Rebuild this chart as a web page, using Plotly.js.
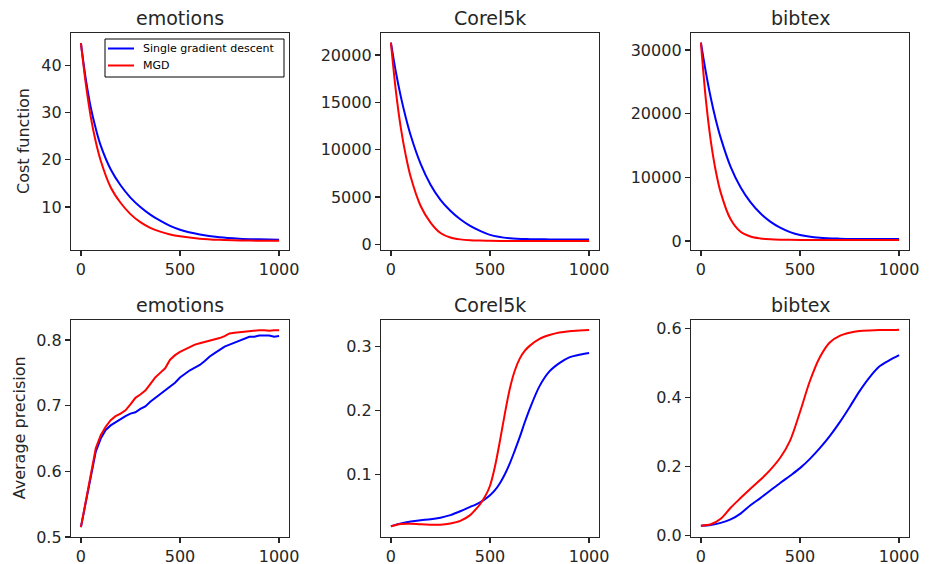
<!DOCTYPE html>
<html>
<head>
<meta charset="utf-8">
<script src="https://cdn.plot.ly/plotly-2.35.2.min.js"></script>
<style>html,body{margin:0;padding:0;background:#fff;}#chart{width:931px;height:564px;}</style>
</head>
<body>
<div id="chart"></div>
<script>
// ---- data ----
const seriesNames = ["Single gradient descent", "MGD"];
const datasets = ["emotions", "Corel5k", "bibtex"];

const iterCost = [0, 25, 50, 75, 100, 150, 200, 250, 300, 350, 400, 450, 500, 600, 700, 800, 900, 1000];
const emotionsCostSGD = [44.7, 37.0, 31.0, 26.6, 23.0, 18.0, 14.6, 12.0, 10.0, 8.4, 7.1, 6.0, 5.2, 4.2, 3.6, 3.3, 3.15, 3.05];
const emotionsCostMGD = [44.7, 36.0, 29.0, 23.8, 19.8, 14.2, 10.9, 8.5, 6.8, 5.6, 4.8, 4.2, 3.8, 3.3, 3.05, 2.92, 2.87, 2.85];
const corelCostSGD = [21300, 18200, 15600, 13400, 11500, 8500, 6300, 4700, 3550, 2650, 1950, 1420, 1000, 640, 540, 520, 510, 510];
const corelCostMGD = [21300, 16200, 12300, 9400, 7100, 4050, 2300, 1200, 720, 520, 430, 390, 370, 355, 350, 350, 350, 350];
const bibtexCostSGD = [31150, 26500, 22450, 19050, 16200, 11650, 8450, 6100, 4350, 3050, 2100, 1400, 950, 520, 370, 320, 300, 300];
const bibtexCostMGD = [31150, 22200, 15700, 11000, 7600, 3400, 1450, 700, 400, 260, 200, 180, 170, 160, 155, 150, 150, 150];

const iterEmoAP = [0,25,50,75,100,125,150,175,200,225,250,275,300,325,350,375,400,425,450,475,500,525,550,575,600,625,650,675,700,725,750,775,800,825,850,875,900,925,950,975,1000];
const emotionsAPSGD = [0.515,0.553,0.595,0.630,0.650,0.663,0.670,0.675,0.679,0.684,0.688,0.690,0.695,0.699,0.706,0.712,0.717,0.724,0.729,0.735,0.743,0.749,0.754,0.758,0.762,0.768,0.775,0.780,0.785,0.790,0.793,0.796,0.800,0.803,0.805,0.805,0.807,0.807,0.807,0.805,0.806];
const emotionsAPMGD = [0.515,0.555,0.598,0.635,0.655,0.668,0.678,0.684,0.688,0.693,0.702,0.712,0.717,0.723,0.733,0.743,0.750,0.757,0.770,0.777,0.782,0.786,0.790,0.793,0.795,0.797,0.798,0.800,0.803,0.806,0.810,0.811,0.812,0.813,0.813,0.814,0.815,0.815,0.814,0.815,0.815];

const iterCorelAP = [0,50,100,150,200,250,300,350,400,425,450,475,500,525,550,575,600,625,650,675,700,750,800,850,900,950,1000];
const corelAPSGD = [0.0185,0.023,0.026,0.028,0.0295,0.032,0.036,0.042,0.049,0.052,0.056,0.061,0.067,0.075,0.086,0.100,0.117,0.137,0.158,0.181,0.202,0.238,0.261,0.274,0.283,0.287,0.290];
const corelAPMGD = [0.0185,0.022,0.0225,0.0215,0.021,0.021,0.023,0.027,0.036,0.044,0.053,0.065,0.082,0.112,0.152,0.195,0.234,0.262,0.281,0.293,0.301,0.312,0.318,0.322,0.324,0.325,0.326];

const iterBibAP = [0,50,100,150,200,250,300,350,400,450,500,550,600,650,700,750,800,850,900,950,1000];
const bibtexAPSGD = [0.028,0.030,0.036,0.046,0.063,0.087,0.108,0.130,0.152,0.173,0.195,0.222,0.253,0.288,0.328,0.372,0.418,0.458,0.490,0.508,0.523];
const bibtexAPMGD = [0.028,0.032,0.048,0.080,0.108,0.135,0.161,0.190,0.225,0.275,0.358,0.448,0.517,0.560,0.579,0.588,0.593,0.595,0.596,0.596,0.597];

const rowLabels = ["Cost function", "Average precision"];

// ---- layout helpers ----
const W = 931, H = 564;
const FONT = "DejaVu Sans";
const TXT = "#262626";
const colPx = [[71, 289], [381, 599], [691, 909]];
const rowPx = [[33, 250], [319.7, 537]];
const px2x = p => p / W;
const px2y = p => 1 - p / H;

const colors = ["#0000ff", "#ff0000"];

const panels = [
  {x: iterCost, y: [emotionsCostSGD, emotionsCostMGD], range: [0.9, 46.84], dtick: 10, fmt: "d", shape: "spline"},
  {x: iterCost, y: [corelCostSGD, corelCostMGD], range: [-602, 22325], dtick: 5000, fmt: "d", shape: "spline"},
  {x: iterCost, y: [bibtexCostSGD, bibtexCostMGD], range: [-1414, 32670], dtick: 10000, fmt: "d", shape: "spline"},
  {x: iterEmoAP, y: [emotionsAPSGD, emotionsAPMGD], range: [0.5, 0.831], dtick: 0.1, fmt: ".1f", shape: "linear"},
  {x: iterCorelAP, y: [corelAPSGD, corelAPMGD], range: [0.0017, 0.342], dtick: 0.1, fmt: ".1f", shape: "spline"},
  {x: iterBibAP, y: [bibtexAPSGD, bibtexAPMGD], range: [-0.005, 0.626], dtick: 0.2, fmt: ".1f", shape: "spline"}
];

const traces = [];
const layout = {
  width: W, height: H,
  margin: {l: 0, r: 0, t: 0, b: 0},
  paper_bgcolor: "#fff", plot_bgcolor: "#fff",
  font: {family: FONT, color: TXT},
  showlegend: false,
  annotations: [],
  shapes: []
};

panels.forEach((p, i) => {
  const r = Math.floor(i / 3), c = i % 3;
  const n = i + 1;
  const xa = "x" + (n === 1 ? "" : n), ya = "y" + (n === 1 ? "" : n);
  p.y.forEach((ys, k) => {
    traces.push({
      x: p.x, y: ys, xaxis: xa, yaxis: ya, type: "scatter", mode: "lines",
      name: seriesNames[k],
      line: {color: colors[k], width: 2, shape: p.shape, smoothing: 0.9}
    });
  });
  const common = {
    showline: true, mirror: true, linecolor: TXT, linewidth: 1.2,
    ticks: "outside", ticklen: 5, tickwidth: 1.2, tickcolor: TXT,
    showgrid: false, zeroline: false,
    tickfont: {family: FONT, size: 16, color: TXT}
  };
  layout["xaxis" + (n === 1 ? "" : n)] = Object.assign({}, common, {
    domain: [px2x(colPx[c][0]), px2x(colPx[c][1])],
    range: [-50, 1050], tick0: 0, dtick: 500, tickformat: "d",
    anchor: ya
  });
  layout["yaxis" + (n === 1 ? "" : n)] = Object.assign({}, common, {
    domain: [px2y(rowPx[r][1]), px2y(rowPx[r][0])],
    range: p.range, tick0: 0, dtick: p.dtick, tickformat: p.fmt,
    anchor: xa
  });
  layout.annotations.push({
    text: datasets[c], xref: "paper", yref: "paper",
    x: px2x((colPx[c][0] + colPx[c][1]) / 2), y: px2y(r === 0 ? 18.5 : 304.5),
    xanchor: "center", yanchor: "middle", showarrow: false,
    font: {family: FONT, size: 19, color: TXT}
  });
});

layout.annotations.push({
  text: rowLabels[0], xref: "paper", yref: "paper", x: px2x(23.5), y: px2y(141.5),
  xanchor: "center", yanchor: "middle", textangle: -90, showarrow: false,
  font: {family: FONT, size: 16, color: TXT}
});
layout.annotations.push({
  text: rowLabels[1], xref: "paper", yref: "paper", x: px2x(19), y: px2y(428.3),
  xanchor: "center", yanchor: "middle", textangle: -90, showarrow: false,
  font: {family: FONT, size: 16, color: TXT}
});

// legend box in the first panel (upper right), drawn in paper coordinates
const legBox = {x0: 105, x1: 284, y0: 39, y1: 77};
layout.shapes.push({
  type: "rect", xref: "paper", yref: "paper",
  x0: px2x(legBox.x0), x1: px2x(legBox.x1), y0: px2y(legBox.y1), y1: px2y(legBox.y0),
  line: {color: "#000", width: 1}, fillcolor: "#fff", layer: "above"
});
const legRowsY = [48.5, 65.5];
seriesNames.forEach((name, k) => {
  layout.shapes.push({
    type: "line", xref: "paper", yref: "paper",
    x0: px2x(108), x1: px2x(134), y0: px2y(legRowsY[k]), y1: px2y(legRowsY[k]),
    line: {color: colors[k], width: 2}, layer: "above"
  });
  layout.annotations.push({
    text: name, xref: "paper", yref: "paper", x: px2x(141), y: px2y(legRowsY[k]),
    xanchor: "left", yanchor: "middle", showarrow: false,
    font: {family: FONT, size: 11, color: "#000"}
  });
});

Plotly.newPlot("chart", traces, layout, {staticPlot: true, displayModeBar: false});
</script>
</body>
</html>
